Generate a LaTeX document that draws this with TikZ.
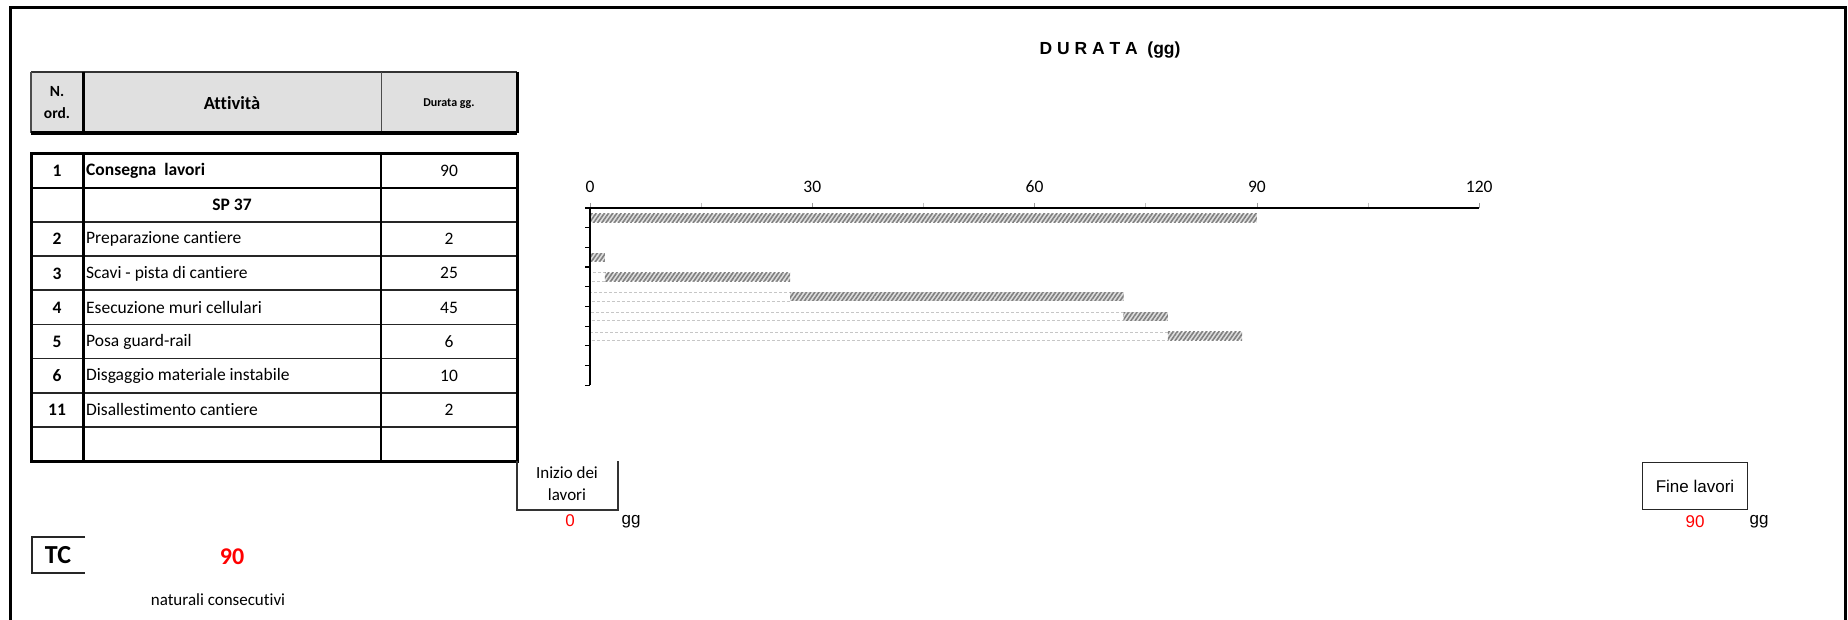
\documentclass[tikz,border=0pt]{standalone}
\usepackage{fontspec}
\setmainfont{Carlito}[Ligatures=NoCommon]
\newfontfamily\arialfont{Liberation Sans}
\usetikzlibrary{patterns.meta}
\tikzstyle{txt}=[inner sep=0pt,font=\fontsize{17.5}{20}\selectfont]
\tikzstyle{boldtxt}=[inner sep=0pt,font=\fontsize{17.5}{20}\selectfont\bfseries]
\tikzstyle{arialtxt}=[inner sep=0pt,font=\arialfont\fontsize{17}{20}\selectfont]
\tikzstyle{redtxt}=[arialtxt,text=red]
\tikzstyle{hatch}=[pattern={Lines[angle=55,distance=3.4pt,line width=1.6pt]},pattern color=black!50]
\tikzstyle{basebar}=[draw=gray!45,densely dashed,line width=0.6pt]
\tikzstyle{thickrule}=[line width=3pt]
\tikzstyle{rowrule}=[line width=1.8pt,black!85]

\begin{document}
\begin{tikzpicture}[x=1pt,y=-1pt]
    \useasboundingbox (0,0) rectangle (1848,620);

    % frame
    \draw[thickrule] (10,620) -- (10,8) -- (1845,8) -- (1845,620);
    \node[font=\arialfont\bfseries\fontsize{17.5}{20}\selectfont,inner sep=0pt] (title) at (1110,50) {D U R A T A ~(gg)};

    % header
    \fill[black!12] (31,72) rectangle (517,133);
    \draw[line width=2pt,black!80] (31,72) -- (517,72);
    \draw[line width=1.5pt,black!70] (31,72) -- (31,133);
    \draw[line width=1pt,black!70] (381,72) -- (381,133);
    \draw[thickrule] (83,72) -- (83,133);
    \draw[thickrule] (517,72) -- (517,133);
    \draw[line width=4pt] (31,133) -- (517,133);
    \node[boldtxt,align=center,font=\fontsize{15.5}{22}\selectfont\bfseries] (hnum) at (57,103) {N.\\ord.};
    \node[boldtxt,font=\fontsize{18.5}{20}\selectfont\bfseries] (hatt) at (232,103) {Attività};
    \node[boldtxt,font=\fontsize{12}{14}\selectfont\bfseries] (hdur) at (449,104) {Durata gg.};

    % table rows
    \foreach \i/\num/\name/\dur in {1/1/{\bfseries Consegna~ lavori}/90, 3/2/{Preparazione cantiere}/2,
        4/3/{Scavi - pista di cantiere}/25, 5/4/{Esecuzione muri cellulari}/45, 6/5/{Posa guard-rail}/6,
        7/6/{Disgaggio materiale instabile}/10, 8/11/{Disallestimento cantiere}/2} {
        \node[boldtxt] (n\i) at (57,{154+34.1*(\i-0.5)}) {\num};
        \node[txt,anchor=west] (a\i) at (86,{154+34.1*(\i-0.5)}) {\name};
        \node[txt] (d\i) at (449,{154+34.1*(\i-0.5)}) {\dur};
    }
    \node[boldtxt] (a2) at (232,{154+34.1*1.5}) {SP 37};

    \foreach \i in {2,...,8}
        \draw[rowrule] (31,{154+34.1*\i}) -- (517,{154+34.1*\i});
    \draw[line width=2.6pt] (31,{154+34.1}) -- (517,{154+34.1});
    \draw[line width=1.2pt] (381,154) -- (381,461);
    \draw[thickrule] (31,154) rectangle (517,461);
    \draw[thickrule] (83,154) -- (83,461);

    % bars
    \foreach \k/\s/\d in {1/0/90, 3/0/2, 4/2/25, 5/27/45, 6/72/6, 7/78/10} {
        \pgfmathsetmacro{\yc}{208+19.7*(\k-0.5)}
        \pgfmathsetmacro{\xs}{590+7.41*\s}
        \pgfmathsetmacro{\xe}{590+7.41*(\s+\d)}
        \ifnum\s>0 \draw[basebar] (590,\yc-4.2) rectangle (\xs,\yc+4.2); \fi
        \fill[gray!25] (\xs,\yc-4.2) rectangle (\xe,\yc+4.2);
        \fill[hatch] (\xs,\yc-4.2) rectangle (\xe,\yc+4.2);
    }

    % axes
    \foreach \v in {15,45,75,105}
        \draw[gray!50,line width=0.8pt] ({590+7.41*\v},203) -- ({590+7.41*\v},208);
    \foreach \v in {0,30,60,90,120} {
        \draw[gray!80,line width=0.8pt] ({590+7.41*\v},203) -- ({590+7.41*\v},208);
        \node[txt] (t\v) at ({590+7.41*\v},187) {\v};
    }
    \draw[line width=1.3pt] (589,208) -- (1479,208);
    \draw[line width=1.3pt] (590,208) -- (590,385);
    \foreach \j in {0,...,9}
        \draw[line width=1.2pt] (585,{208+19.7*\j}) -- (590,{208+19.7*\j});

    % start / end
    \draw[line width=1.3pt,black!80] (517,461) -- (517,510) -- (618,510) -- (618,461);
    \node[txt,align=center,font=\fontsize{17}{22}\selectfont] (inizio) at (567,484) {Inizio dei\\lavori};
    \node[redtxt] (zero) at (570,521) {0};
    \node[arialtxt] (gg1) at (631,522) {gg};

    \node[arialtxt,draw=black!85,line width=1.5pt,minimum width=105pt,minimum height=47pt] (fine) at (1695,486) {Fine lavori};
    \node[redtxt] (ninety) at (1695,522) {90};
    \node[arialtxt] (gg2) at (1759,522) {gg};

    % TC
    \draw[line width=1.5pt,black!85] (85,537) -- (32,537) -- (32,573) -- (85,573);
    \node[boldtxt,font=\fontsize{26}{28}\selectfont\bfseries] (tc) at (58,555) {TC};
    \node[boldtxt,text=red,font=\fontsize{24}{28}\selectfont\bfseries] (tcval) at (232,557) {90};
    \node[txt,font=\fontsize{17}{20}\selectfont] (nat) at (218,600) {naturali consecutivi};
\end{tikzpicture}
\end{document}
